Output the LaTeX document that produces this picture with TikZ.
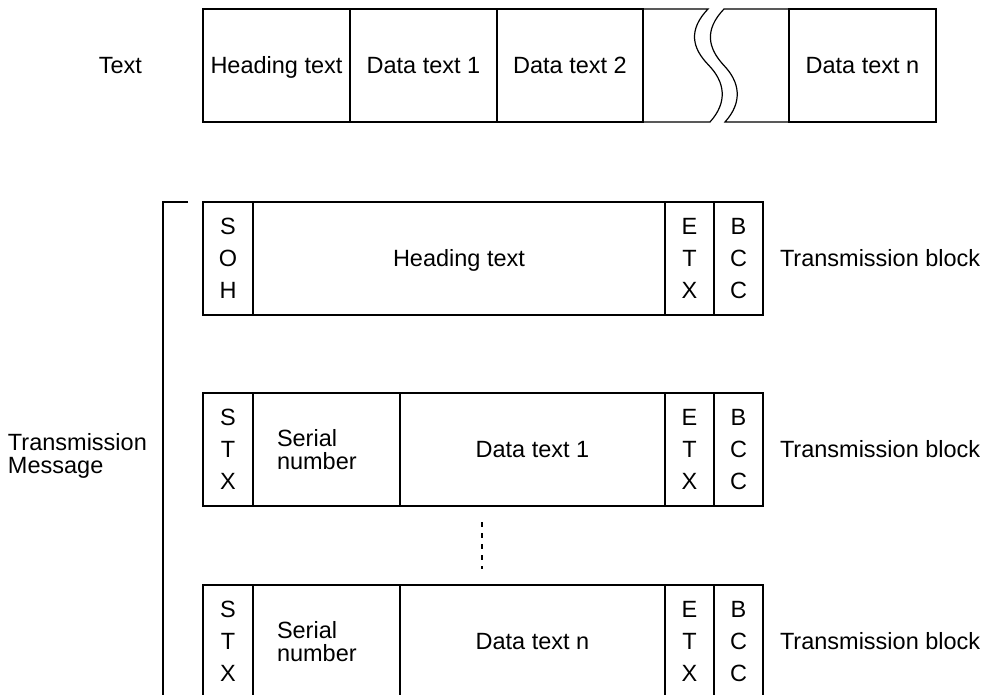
\documentclass[tikz,border=0pt]{standalone}
\usepackage{fontspec}
\setmainfont{Liberation Sans}
\usetikzlibrary{positioning}
\tikzset{
	wire/.style={line width=1.2pt},
	cell/.style={draw, wire, inner sep=0pt, outer sep=0pt, minimum height=113pt, text height=17pt, text depth=1pt, font=\fontsize{23.5}{23}\selectfont},
	letters/.style={cell, minimum width=50pt, align=center, text height={}, text depth={}, font=\fontsize{23.5}{32}\selectfont},
	serial/.style={cell, minimum width=147pt, align=left, text height={}, text depth={}, text width=99pt, inner xsep=24pt},
	txt/.style={inner sep=0pt, outer sep=0pt, font=\fontsize{23.5}{23}\selectfont},
}

\begin{document}
\begin{tikzpicture}[x=1pt, y=-1pt]
	\useasboundingbox (0,0) rectangle (989,695);
	\clip (0,0) rectangle (989,695);

	% text
	\node[cell, minimum width=147pt, anchor=north west] (head) at (203,9) {Heading text};
	\node[cell, minimum width=147pt, right=0pt of head] (dt1) {Data text 1};
	\node[cell, minimum width=146pt, right=0pt of dt1] (dt2) {Data text 2};
	\node[cell, minimum width=147pt, anchor=north west] (dtn) at (789,9) {Data text n};
	\node[txt, left=61pt of head] (textlbl) {Text};

	\draw[wire] (dt2.north east) -- (708,9)
		.. controls (688,30) and (692,48) .. (708.5,65)
		.. controls (725,82) and (728,102) .. (710,122) -- (dt2.south east);
	\draw[wire] (dtn.north west) -- (724,9)
		.. controls (704,30) and (708,48) .. (723.5,65)
		.. controls (740,82) and (743,102) .. (725,122) -- (dtn.south west);

	% transmission message
	\node[letters, anchor=north west] (soh) at (203,202) {S\\O\\H};
	\node[cell, minimum width=412pt, right=0pt of soh] (hdr) {Heading text};
	\node[letters, minimum width=49pt, right=0pt of hdr] (etx1) {E\\T\\X};
	\node[letters, minimum width=49pt, right=0pt of etx1] (bcc1) {B\\C\\C};
	\node[txt, right=17pt of bcc1] (blk1) {Transmission block};

	\node[letters, anchor=north west] (stx2) at (203,393) {S\\T\\X};
	\node[serial, right=0pt of stx2] (ser2) {Serial\\number};
	\node[cell, minimum width=265pt, right=0pt of ser2] (dat2) {Data text 1};
	\node[letters, minimum width=49pt, right=0pt of dat2] (etx2) {E\\T\\X};
	\node[letters, minimum width=49pt, right=0pt of etx2] (bcc2) {B\\C\\C};
	\node[txt, right=17pt of bcc2] (blk2) {Transmission block};

	\node[letters, anchor=north west] (stx3) at (203,585) {S\\T\\X};
	\node[serial, right=0pt of stx3] (ser3) {Serial\\number};
	\node[cell, minimum width=265pt, right=0pt of ser3] (dat3) {Data text n};
	\node[letters, minimum width=49pt, right=0pt of dat3] (etx3) {E\\T\\X};
	\node[letters, minimum width=49pt, right=0pt of etx3] (bcc3) {B\\C\\C};
	\node[txt, right=17pt of bcc3] (blk3) {Transmission block};

	\coordinate (dtop) at (482,522);
	\coordinate (dbot) at (482,569);
	\draw[wire, dash pattern=on 5pt off 6pt] (dtop) -- (dbot);

	\coordinate (brtop) at (188,202);
	\coordinate (brbot) at (163,700);
	\draw[wire] (brtop) -- (brtop -| brbot) -- (brbot);
	\node[txt, align=left, anchor=west] (msg) at (8,456) {Transmission\\Message};
\end{tikzpicture}
\end{document}
